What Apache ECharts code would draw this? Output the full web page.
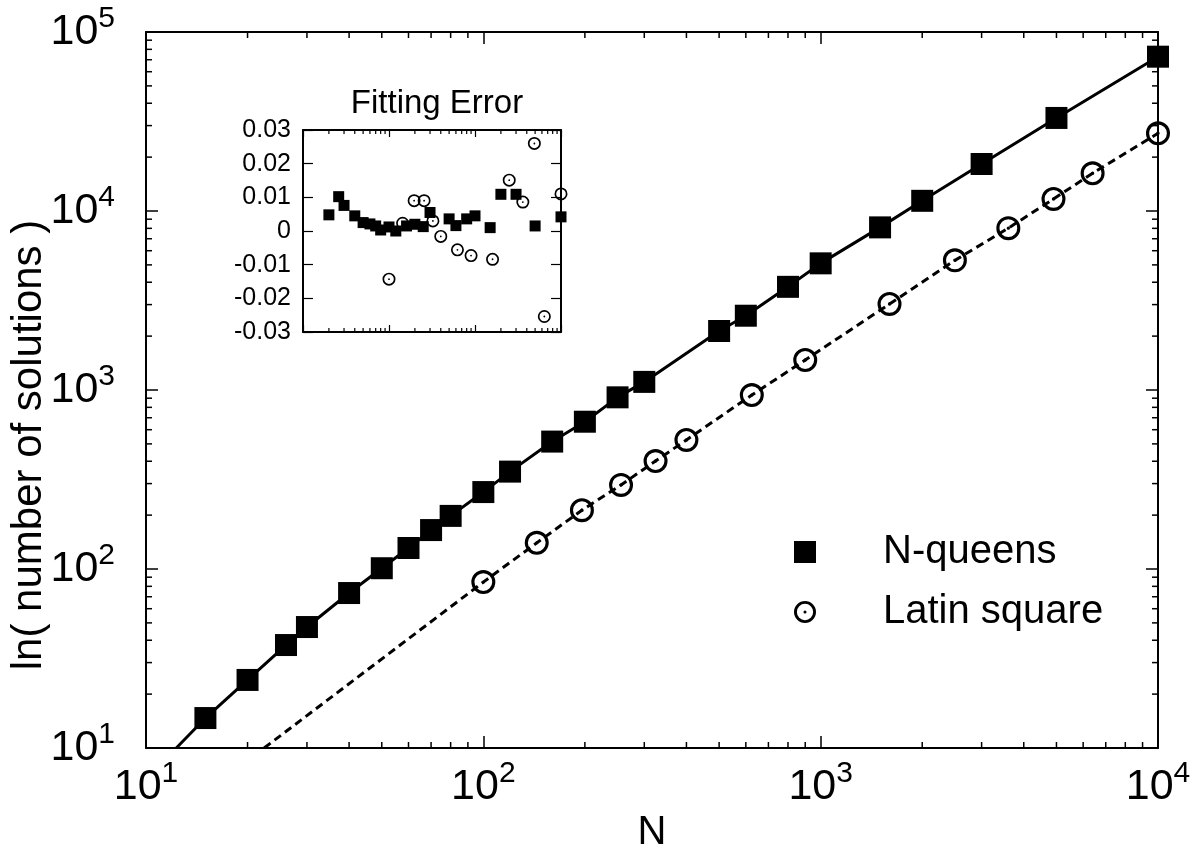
<!DOCTYPE html>
<html><head><meta charset="utf-8">
<script src="https://cdn.jsdelivr.net/npm/echarts@6/dist/echarts.min.js"></script>
<style>html,body{margin:0;padding:0;background:#fff}#c{width:1199px;height:848px}</style>
</head><body><div id="c"></div>
<script>
// ---- data ----
const queensN   = [15,20,26,30,40,50,60,70,80,100,120,160,200,250,300,500,600,800,1000,1500,2000,3000,5000,10000];
const queensLnQ = [14.7,24,37.6,47.4,73.4,101,131,165,198,269,350,515,665,910,1110,2136,2600,3770,5100,8100,11400,18300,33100,72800];
const latinN    = [100,144,196,256,324,400,625,900,1600,2500,3600,4900,6400,10000];
const latinLnL  = [84.5,140,213,295,401,526,937,1471,3024,5300,8020,11670,16250,27170];
// where the fitted curves leave the bottom of the frame (ln value = 10)
const queensFitStart = [12.3, 10];
const latinFitStart  = [22.4, 10];
// inset: fitting error
const queensErrN = [20,26,30,40,50,60,70,80,100,120,160,200,250,300,500,600,800,1000,1500,2000,3000,5000,10000];
const queensErr  = [0.0048,0.0102,0.0076,0.0045,0.0025,0.0021,0.0015,0.0003,0.0012,0.0,0.0015,0.002,0.0013,0.0055,0.0036,0.0016,0.0036,0.0045,0.001,0.0109,0.0109,0.0015,0.0042];
const latinErrN  = [100,144,196,256,324,400,625,900,1600,2500,3600,4900,6400,10000];
const latinErr   = [-0.0143,0.0023,0.009,0.009,0.003,-0.0016,-0.0056,-0.0073,-0.0084,0.0151,0.0086,0.026,-0.0254,0.011];
// axis ticks
const xDecades = [10,100,1000];
const yDecades = [10,100,1000,10000];
const minorMult = [2,3,4,5,6,7,8,9];
const insetYTicks = ['-0.03','-0.02','-0.01','0','0.01','0.02','0.03'];

const FONT = '"Liberation Sans", Arial, Helvetica, sans-serif';
const ringPath = 'path://M10 0A10 10 0 1 1 10 20A10 10 0 1 1 10 0ZM10 2.6A7.4 7.4 0 1 0 10 17.4A7.4 7.4 0 1 0 10 2.6ZM10 8.6A1.4 1.4 0 1 1 10 11.4A1.4 1.4 0 1 1 10 8.6Z';

const minorOf = decs => { const out = []; decs.forEach(d => minorMult.forEach(m => out.push(d*m))); return out; };
const xMinor = minorOf(xDecades);
const yMinor = minorOf(yDecades);

const pairs = (a, b) => a.map((v, i) => [v, b[i]]);

function xMinorTicks(xi, yi, yLo, yHi, len, lw) {
  return {
    type: 'custom', xAxisIndex: xi, yAxisIndex: yi, silent: true, z: 5, clip: false,
    data: xMinor.map(v => [v, yLo]),
    renderItem: (p, api) => {
      const v = api.value(0);
      const b = api.coord([v, yLo]), t = api.coord([v, yHi]);
      return { type: 'group', children: [
        { type: 'line', shape: {x1: b[0], y1: b[1], x2: b[0], y2: b[1] - len}, style: {stroke: '#000', lineWidth: lw} },
        { type: 'line', shape: {x1: t[0], y1: t[1], x2: t[0], y2: t[1] + len}, style: {stroke: '#000', lineWidth: lw} }
      ]};
    }
  };
}
function yMinorTicks(xi, yi, xLo, xHi, len, lw) {
  return {
    type: 'custom', xAxisIndex: xi, yAxisIndex: yi, silent: true, z: 5, clip: false,
    data: yMinor.map(v => [xLo, v]),
    renderItem: (p, api) => {
      const v = api.value(1);
      const l = api.coord([xLo, v]), r = api.coord([xHi, v]);
      return { type: 'group', children: [
        { type: 'line', shape: {x1: l[0], y1: l[1], x2: l[0] + len, y2: l[1]}, style: {stroke: '#000', lineWidth: lw} },
        { type: 'line', shape: {x1: r[0], y1: r[1], x2: r[0] - len, y2: r[1]}, style: {stroke: '#000', lineWidth: lw} }
      ]};
    }
  };
}

const powLabel = v => '{b|10}{s|' + Math.round(Math.log10(v)) + '}';
const rich = {
  b: {fontSize: 43, fontFamily: FONT, color: '#000'},
  s: {fontSize: 30, fontFamily: FONT, color: '#000', padding: [0, 0, 26, 0]}
};
const axLine = {show: true, onZero: false, lineStyle: {color: '#000', width: 2}};

const mainX = (pos, show) => ({
  type: 'log', logBase: 10, min: 10, max: 10000, gridIndex: 0, position: pos,
  axisLine: axLine, splitLine: {show: false},
  axisTick: {show: true, inside: true, length: 12, lineStyle: {color: '#000', width: 1.5}},
  axisLabel: {show: show, formatter: powLabel, rich: rich, margin: 11},
  name: show ? 'N' : '', nameLocation: 'middle', nameGap: 63,
  nameTextStyle: {fontSize: 40, fontFamily: FONT, color: '#000'}
});
const mainY = (pos, show) => ({
  type: 'log', logBase: 10, min: 10, max: 100000, gridIndex: 0, position: pos,
  axisLine: axLine, splitLine: {show: false},
  axisTick: {show: true, inside: true, length: 12, lineStyle: {color: '#000', width: 1.5}},
  axisLabel: {show: show, formatter: powLabel, rich: rich, margin: 31},
  name: show ? 'ln( number of solutions )' : '', nameLocation: 'middle', nameGap: 96, nameRotate: 90,
  nameMoveOverlap: false,
  nameTextStyle: {fontSize: 42, fontFamily: FONT, color: '#000', padding: [0, 110, 0, 0]}
});
const insetX = pos => ({
  type: 'log', logBase: 10, min: 10, max: 10000, gridIndex: 1, position: pos,
  axisLine: axLine, splitLine: {show: false},
  axisTick: {show: true, inside: true, length: 7, lineStyle: {color: '#000', width: 1.2}},
  axisLabel: {show: false}
});
const insetY = (pos, show) => ({
  type: 'value', min: -0.03, max: 0.03, interval: 0.01, gridIndex: 1, position: pos,
  axisLine: axLine, splitLine: {show: false},
  axisTick: {show: true, inside: true, length: 10, lineStyle: {color: '#000', width: 1.2}},
  axisLabel: {show: show, margin: 12, fontSize: 25, fontFamily: FONT, color: '#000',
    formatter: v => insetYTicks[Math.round(v * 100) + 3]}
});

const chart = echarts.init(document.getElementById('c'), null, {renderer: 'canvas'});
chart.setOption({
  animation: false,
  backgroundColor: '#fff',
  title: {text: 'Fitting Error', left: 432, top: 82, textAlign: 'center',
    textStyle: {fontSize: 33, fontWeight: 'normal', fontFamily: FONT, color: '#000'}},
  grid: [
    {left: 146, top: 32, width: 1012, height: 716, containLabel: false, outerBoundsMode: 'none'},
    {left: 303, top: 130, width: 258, height: 202, containLabel: false, outerBoundsMode: 'none'}
  ],
  xAxis: [mainX('bottom', true), mainX('top', false), insetX('bottom'), insetX('top')],
  yAxis: [mainY('left', true), mainY('right', false), insetY('left', true), insetY('right', false)],
  legend: {
    orient: 'vertical', left: 789, top: 527, itemWidth: 22, itemHeight: 22, itemGap: 20,
    textStyle: {fontSize: 40, fontFamily: FONT, color: '#000', padding: [0, 0, 0, 62]},
    itemStyle: {opacity: 1},
    data: [{name: 'N-queens', icon: 'rect'}, {name: 'Latin square', icon: ringPath}]
  },
  series: [
    {name: 'queens fit', type: 'line', xAxisIndex: 0, yAxisIndex: 0, showSymbol: false, z: 2,
     data: [queensFitStart].concat(pairs(queensN, queensLnQ)),
     lineStyle: {color: '#000', width: 3}},
    {name: 'latin fit', type: 'line', xAxisIndex: 0, yAxisIndex: 0, showSymbol: false, z: 2,
     data: [latinFitStart].concat(pairs(latinN, latinLnL)),
     lineStyle: {color: '#000', width: 3, type: [8, 5]}},
    {name: 'N-queens', type: 'scatter', xAxisIndex: 0, yAxisIndex: 0, symbol: 'rect', symbolSize: 22, z: 3,
     itemStyle: {color: '#000', opacity: 1}, data: pairs(queensN, queensLnQ)},
    {name: 'Latin square', type: 'scatter', xAxisIndex: 0, yAxisIndex: 0, symbol: ringPath, symbolSize: 24, z: 3,
     itemStyle: {color: '#000', opacity: 1}, data: pairs(latinN, latinLnL)},
    {name: 'queens err', type: 'scatter', xAxisIndex: 2, yAxisIndex: 2, symbol: 'rect', symbolSize: 11, z: 3,
     itemStyle: {color: '#000', opacity: 1}, data: pairs(queensErrN, queensErr)},
    {name: 'latin err', type: 'scatter', xAxisIndex: 2, yAxisIndex: 2, symbol: ringPath, symbolSize: 13, z: 3,
     itemStyle: {color: '#000', opacity: 1}, data: pairs(latinErrN, latinErr)},
    xMinorTicks(0, 0, 10, 100000, 6, 1.5),
    yMinorTicks(0, 0, 10, 10000, 6, 1.5),
    xMinorTicks(2, 2, -0.03, 0.03, 4, 1.2)
  ]
});
</script></body></html>
